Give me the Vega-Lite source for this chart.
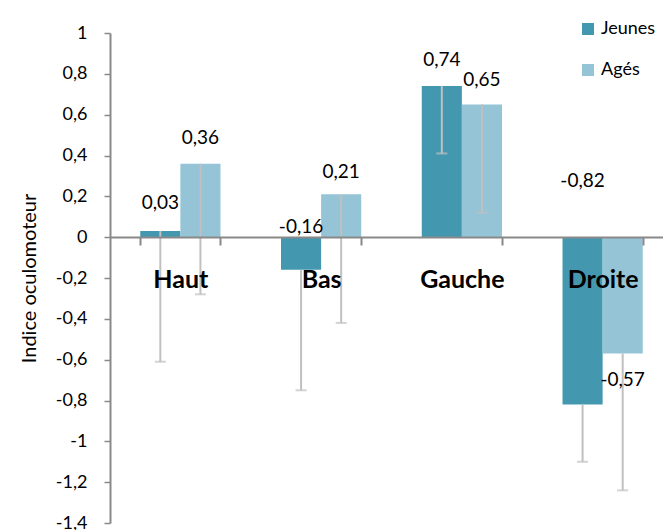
{
  "$schema": "https://vega.github.io/schema/vega-lite/v6.json",
  "width": 563,
  "height": 490,
  "autosize": "none",
  "padding": {"left": 110, "top": 33, "right": 0, "bottom": 7},
  "config": {
    "font": "Lato",
    "view": {"stroke": null},
    "locale": {"number": {"decimal": ",", "thousands": " ", "grouping": [3], "currency": ["", " €"], "minus": "-"}}
  },
  "data": {
    "values": [
      {"category": "Haut", "group": "Jeunes", "value": 0.03, "low": -0.61, "labelY": 0.167},
      {"category": "Haut", "group": "Agés", "value": 0.36, "low": -0.28, "labelY": 0.485},
      {"category": "Bas", "group": "Jeunes", "value": -0.16, "low": -0.75, "labelY": 0.049},
      {"category": "Bas", "group": "Agés", "value": 0.21, "low": -0.42, "labelY": 0.32},
      {"category": "Gauche", "group": "Jeunes", "value": 0.74, "low": 0.41, "labelY": 0.866},
      {"category": "Gauche", "group": "Agés", "value": 0.65, "low": 0.12, "labelY": 0.771},
      {"category": "Droite", "group": "Jeunes", "value": -0.82, "low": -1.10, "labelY": 0.277},
      {"category": "Droite", "group": "Agés", "value": -0.57, "low": -1.24, "labelY": -0.70}
    ]
  },
  "encoding": {
    "x": {
      "field": "category",
      "type": "nominal",
      "sort": ["Haut", "Bas", "Gauche", "Droite"],
      "scale": {"paddingInner": 0.43, "paddingOuter": 0.215},
      "axis": {
        "title": null,
        "orient": "bottom",
        "offset": -286,
        "zindex": 1,
        "labelAngle": 0,
        "tickBand": "extent",
        "tickSize": 8,
        "tickWidth": 2,
        "tickColor": "#898989",
        "domainColor": "#898989",
        "domainWidth": 2,
        "labelFontSize": 25,
        "labelFontWeight": "bold",
        "labelColor": "#000000",
        "labelPadding": 22
      }
    },
    "xOffset": {"field": "group", "type": "nominal", "sort": ["Jeunes", "Agés"]}
  },
  "layer": [
    {
      "mark": {"type": "bar"},
      "encoding": {
        "y": {
          "field": "value",
          "type": "quantitative",
          "title": "Indice oculomoteur",
          "scale": {"domain": [-1.4, 1], "nice": false, "zero": false},
          "axis": {
            "values": [-1.4, -1.2, -1, -0.8, -0.6, -0.4, -0.2, 0, 0.2, 0.4, 0.6, 0.8, 1],
            "format": ".1~f",
            "grid": false,
            "domainColor": "#898989",
            "domainWidth": 2,
            "tickColor": "#898989",
            "tickWidth": 1.5,
            "tickSize": 6,
            "labelFontSize": 18,
            "labelColor": "#000000",
            "labelPadding": 17,
            "titleFontSize": 20,
            "titleFontWeight": "normal",
            "titleColor": "#000000",
            "titlePadding": 16
          }
        },
        "color": {
          "field": "group",
          "type": "nominal",
          "sort": ["Jeunes", "Agés"],
          "scale": {"domain": ["Jeunes", "Agés"], "range": ["#4398b0", "#94c4d6"]},
          "legend": {
            "title": null,
            "orient": "none",
            "legendX": 469,
            "legendY": -13,
            "padding": 0,
            "symbolType": "square",
            "symbolSize": 144,
            "symbolStrokeWidth": 0,
            "symbolOpacity": 1,
            "labelFontSize": 18,
            "labelOffset": 4,
            "labelColor": "#000000",
            "rowPadding": 23
          }
        }
      }
    },
    {
      "mark": {"type": "rule", "color": "#c0c0c0", "strokeWidth": 2},
      "encoding": {
        "y": {"field": "value", "type": "quantitative", "title": "Indice oculomoteur"},
        "y2": {"field": "low"}
      }
    },
    {
      "mark": {"type": "tick", "color": "#c0c0c0", "thickness": 2, "size": 11},
      "encoding": {
        "y": {"field": "low", "type": "quantitative", "title": "Indice oculomoteur"}
      }
    },
    {
      "mark": {"type": "text", "fontSize": 19, "align": "center", "baseline": "middle", "color": "#000000"},
      "encoding": {
        "y": {"field": "labelY", "type": "quantitative", "title": "Indice oculomoteur"},
        "text": {"field": "value", "type": "quantitative", "format": ".2f"}
      }
    }
  ]
}
